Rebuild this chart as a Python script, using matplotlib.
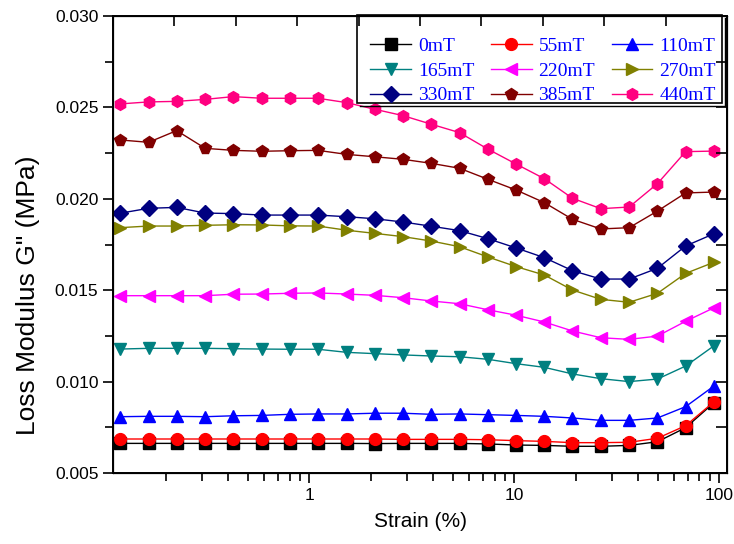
import numpy as np
import matplotlib
matplotlib.use('Agg')
import matplotlib.pyplot as plt
from matplotlib.ticker import MultipleLocator, LogLocator, NullFormatter, FixedLocator
from matplotlib.patches import Rectangle
from matplotlib.lines import Line2D

strain = [0.119, 0.164, 0.225, 0.31, 0.425, 0.585, 0.80, 1.10, 1.52, 2.08, 2.86,
          3.93, 5.40, 7.42, 10.2, 14.0, 19.2, 26.4, 36.3, 49.9, 68.5, 94.2]

labels = ['0mT', '55mT', '110mT', '165mT', '220mT', '270mT', '330mT', '385mT', '440mT']

g_0 = [0.00662, 0.00662, 0.00662, 0.00662, 0.00662, 0.00662, 0.00662, 0.00662, 0.00662, 0.00661, 0.00662,
       0.00662, 0.00662, 0.00659, 0.00653, 0.00651, 0.00646, 0.00646, 0.00651, 0.00671, 0.00748, 0.00885]
g_55 = [0.00686, 0.00686, 0.00686, 0.00686, 0.00686, 0.00686, 0.00686, 0.00686, 0.00686, 0.00686, 0.00684,
        0.00684, 0.00684, 0.00682, 0.00677, 0.00673, 0.00666, 0.00666, 0.00668, 0.00690, 0.00759, 0.00890]
g_110 = [0.00808, 0.00810, 0.00810, 0.00808, 0.00813, 0.00815, 0.00821, 0.00823, 0.00823, 0.00827, 0.00827,
         0.00821, 0.00823, 0.00819, 0.00815, 0.00810, 0.00801, 0.00788, 0.00788, 0.00801, 0.00863, 0.00976]
g_165 = [0.01178, 0.01182, 0.01182, 0.01182, 0.01180, 0.01178, 0.01177, 0.01177, 0.01160, 0.01153, 0.01146,
         0.01140, 0.01136, 0.01122, 0.01098, 0.01078, 0.01042, 0.01016, 0.01000, 0.01014, 0.01085, 0.01196]
g_220 = [0.01470, 0.01470, 0.01470, 0.01470, 0.01478, 0.01479, 0.01483, 0.01485, 0.01479, 0.01472, 0.01459,
         0.01441, 0.01426, 0.01393, 0.01363, 0.01326, 0.01277, 0.01240, 0.01231, 0.01249, 0.01330, 0.01404]
g_270 = [0.01842, 0.01851, 0.01851, 0.01855, 0.01858, 0.01857, 0.01852, 0.01851, 0.01828, 0.01811, 0.01793,
         0.01769, 0.01738, 0.01682, 0.01629, 0.01583, 0.01501, 0.01450, 0.01434, 0.01483, 0.01592, 0.01653]
g_330 = [0.01921, 0.01948, 0.01953, 0.01922, 0.01919, 0.01911, 0.01911, 0.01911, 0.01902, 0.01891, 0.01873,
         0.01850, 0.01826, 0.01782, 0.01731, 0.01678, 0.01607, 0.01561, 0.01561, 0.01620, 0.01742, 0.01809]
g_385 = [0.02322, 0.02309, 0.02373, 0.02276, 0.02265, 0.02260, 0.02263, 0.02265, 0.02243, 0.02230, 0.02216,
         0.02194, 0.02167, 0.02107, 0.02048, 0.01979, 0.01888, 0.01835, 0.01842, 0.01933, 0.02032, 0.02037]
g_440 = [0.02519, 0.02530, 0.02533, 0.02544, 0.02559, 0.02550, 0.02550, 0.02550, 0.02526, 0.02490, 0.02455,
         0.02408, 0.02362, 0.02272, 0.02190, 0.02110, 0.02003, 0.01946, 0.01955, 0.02083, 0.02258, 0.02261]

series = [g_0, g_55, g_110, g_165, g_220, g_270, g_330, g_385, g_440]
colors = ['#000000', '#ff0000', '#0000ff', '#008080', '#ff00ff', '#808000', '#000080', '#800000', '#ff0080']
markers = ['s', 'o', '^', 'v', '<', '>', 'D', 'p', 'h']

plt.rcParams['font.family'] = ['Liberation Sans', 'DejaVu Sans']

W, H = 734, 544
fig = plt.figure(figsize=(W / 100, H / 100), dpi=100)
ax = fig.add_axes([113 / W, 1 - 473 / H, (727 - 113) / W, (473 - 16) / H])

handles = []
for vals, c, m, lab in zip(series, colors, markers, labels):
    ms = 8 if m in ('D', 's') else 8.5
    ln, = ax.plot(strain, vals, color=c, marker=m, markersize=ms, linewidth=1.0,
                  markeredgecolor=c, label=lab)
    handles.append(ln)

ax.set_xscale('log')
ax.set_xlim(0.11, 109)
ax.set_ylim(0.005, 0.030)
ax.xaxis.set_major_locator(FixedLocator([1, 10, 100]))
ax.set_xticklabels(['1', '10', '100'])
ax.xaxis.set_minor_locator(LogLocator(base=10, subs=np.arange(2, 10)))
ax.xaxis.set_minor_formatter(NullFormatter())
ax.yaxis.set_major_locator(MultipleLocator(0.005))
ax.yaxis.set_minor_locator(MultipleLocator(0.0025))
ax.yaxis.set_major_formatter(plt.FormatStrFormatter('%.3f'))

ax.tick_params(which='both', direction='out', labelsize=12.5, width=1.2, top=False, right=False)
ax.tick_params(which='major', length=7)
ax.tick_params(which='minor', length=5.5)
for s in ax.spines.values():
    s.set_linewidth(1.4)

# top axis: plain linear ticks pointing inwards
top = ax.twiny()
top.set_xlim(0, 10)
top.xaxis.set_major_locator(MultipleLocator(1))
top.tick_params(which='both', direction='in', labeltop=False, width=1.2, length=7)

# right axis: inward ticks at every 0.0025
rgt = ax.twinx()
rgt.set_ylim(0.005, 0.030)
rgt.yaxis.set_major_locator(MultipleLocator(0.0025))
rgt.tick_params(which='both', direction='in', labelright=False, width=1.2, length=8)

ax.set_xlabel('Strain (%)', fontsize=15)
ax.xaxis.set_label_coords((420 - 113) / (727 - 113), -(512 - 473) / (473 - 16))
ax.set_ylabel('Loss Modulus G" (MPa)', fontsize=19)
ax.yaxis.set_label_coords(-(113 - 40) / (727 - 113), (473 - 295) / (473 - 16))

# legend filled row by row
order = [0, 3, 6, 1, 4, 7, 2, 5, 8]
leg = fig.legend([handles[i] for i in order], [labels[i] for i in order], ncol=3,
                 loc='center', bbox_to_anchor=(543 / W, 1 - 71 / H),
                 prop={'family': ['Liberation Serif'], 'size': 14},
                 labelcolor='#0000ff', frameon=False,
                 handlelength=2.1, handletextpad=0.35, columnspacing=0.85,
                 labelspacing=0.36, borderpad=0)

# legend frame and its offset shadow
fig.add_artist(Rectangle((357 / W, 1 - 103 / H), (722 - 357) / W, (103 - 15) / H,
                         transform=fig.transFigure, fill=False, ec='black', lw=1.2))
fig.add_artist(Line2D([724.5 / W, 724.5 / W], [1 - 18 / H, 1 - 105.5 / H],
                      transform=fig.transFigure, color='black', lw=1.0))
fig.add_artist(Line2D([360 / W, 724.5 / W], [1 - 105.5 / H, 1 - 105.5 / H],
                      transform=fig.transFigure, color='black', lw=1.0))

fig.savefig('out.png', dpi=100)
